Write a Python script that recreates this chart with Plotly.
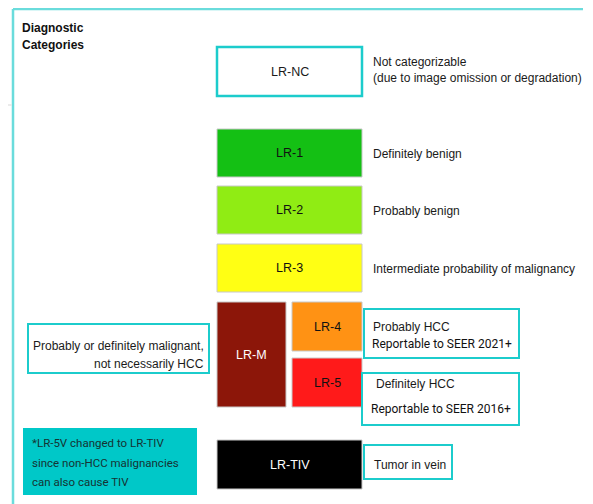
import plotly.graph_objects as go

# ---- content ----
categories = ["LR-NC", "LR-1", "LR-2", "LR-3", "LR-M", "LR-4", "LR-5", "LR-TIV"]
fill_colors = ["#FFFFFF", "#14C014", "#90EC14", "#FFFF14", "#8C1609", "#FF9214", "#FF1A1A", "#000000"]
label_colors = ["#1A1A1A", "#111111", "#111111", "#111111", "#FFFFFF", "#111111", "#111111", "#FFFFFF"]
descriptions = {
    "LR-NC": ["Not categorizable", "(due to image omission or degradation)"],
    "LR-1": ["Definitely benign"],
    "LR-2": ["Probably benign"],
    "LR-3": ["Intermediate probability of malignancy"],
    "LR-4": ["Probably HCC"],
    "LR-5": ["Definitely HCC"],
    "LR-TIV": ["Tumor in vein"],
}
seer_notes = {"LR-4": "Reportable to SEER 2021+", "LR-5": "Reportable to SEER 2016+"}
lrm_text = ["Probably or definitely malignant,", "not necessarily HCC"]
title_lines = ["Diagnostic", "Categories"]
footnote_lines = ["*LR-5V changed to LR-TIV", "since non-HCC malignancies", "can also cause TIV"]

# ---- layout geometry (pixel coordinates of the canvas) ----
W, H = 593, 504
OFF = 8  # page body margin
box_geom = {  # x0, x1, y0, y1
    "LR-NC": (217, 362, 47, 96),
    "LR-1": (217, 362, 129, 177),
    "LR-2": (217, 362, 186, 234),
    "LR-3": (217, 362, 244, 292),
    "LR-M": (217, 286, 302, 407),
    "LR-4": (292, 362, 302, 351),
    "LR-5": (292, 362, 358, 407),
    "LR-TIV": (217, 362, 440, 489),
}
desc_pos = {  # x, first-line y, line step
    "LR-NC": (371, 62, 16),
    "LR-1": (371, 154, 16),
    "LR-2": (371, 211, 16),
    "LR-3": (371, 269, 16),
    "LR-4": (371, 327, 16),
    "LR-5": (374, 384, 16),
    "LR-TIV": (372, 465, 16),
}
seer_pos = {"LR-4": (370, 344), "LR-5": (369, 409)}
teal = "#1CCCCC"
outline_boxes = [  # x0, x1, y0, y1 for teal outlined text boxes
    (364, 519, 309, 358),
    (362, 519, 373, 425),
    (364, 452, 445, 479),
    (28, 209, 324, 373),
]

fig = go.Figure()
fig.add_trace(go.Scatter(x=[OFF, W], y=[OFF, H], mode="markers", marker=dict(opacity=0), hoverinfo="skip", showlegend=False))

shapes = []
annotations = []
txt = "#1A1A1A"
main_font = "Liberation Sans, Arial, sans-serif"
alt_font = "Roboto, sans-serif"

# frame lines
shapes.append(dict(type="line", x0=13, x1=583, y0=9, y1=9, line=dict(color="#6ADCDC", width=2.5)))
shapes.append(dict(type="line", x0=13, x1=13, y0=9, y1=H, line=dict(color="#6ADCDC", width=2.5)))
shapes.append(dict(type="line", x0=OFF, x1=12, y0=105, y1=105, line=dict(color="#E4E4E4", width=1.5)))

# category boxes
for cat, fc, lc in zip(categories, fill_colors, label_colors):
    x0, x1, y0, y1 = box_geom[cat]
    border = dict(color=teal, width=2.5) if cat == "LR-NC" else dict(color="#C8C8C8", width=1)
    shapes.append(dict(type="rect", x0=x0, x1=x1, y0=y0, y1=y1, fillcolor=fc, line=border, layer="below"))
    annotations.append(dict(x=(x0 + x1) / 2, y=(y0 + y1) / 2, text=cat, showarrow=False,
                            font=dict(family=main_font, size=12.5, color=lc), xanchor="center", yanchor="middle"))

# teal outlined boxes
for x0, x1, y0, y1 in outline_boxes:
    shapes.append(dict(type="rect", x0=x0, x1=x1, y0=y0, y1=y1, fillcolor="rgba(0,0,0,0)", line=dict(color=teal, width=2)))

# footnote box
shapes.append(dict(type="rect", x0=23, x1=197, y0=428, y1=495, fillcolor="#00C8C8", line=dict(width=0), layer="below"))

# descriptions
for cat, lines in descriptions.items():
    x, y, step = desc_pos[cat]
    for i, line in enumerate(lines):
        annotations.append(dict(x=x, y=y + i * step, text=line, showarrow=False, xanchor="left", yanchor="middle",
                                font=dict(family=main_font, size=12, color=txt)))
for cat, note in seer_notes.items():
    x, y = seer_pos[cat]
    annotations.append(dict(x=x, y=y, text=note, showarrow=False, xanchor="left", yanchor="middle",
                            font=dict(family=alt_font, size=12, color="#111111")))

# LR-M side text (right aligned)
for i, line in enumerate(lrm_text):
    annotations.append(dict(x=206, y=346 + i * 18, text=line, showarrow=False, xanchor="right", yanchor="middle",
                            font=dict(family=main_font, size=12, color=txt)))

# title
for i, line in enumerate(title_lines):
    annotations.append(dict(x=20, y=28 + i * 17, text="<b>" + line + "</b>", showarrow=False, xanchor="left", yanchor="middle",
                            font=dict(family=main_font, size=12, color="#111111")))

# footnote
for i, line in enumerate(footnote_lines):
    annotations.append(dict(x=30, y=443 + i * 19.5, text=line, showarrow=False, xanchor="left", yanchor="middle",
                            font=dict(family=alt_font, size=11.5, color="#163333")))

fig.update_layout(
    width=W - OFF, height=H - OFF,
    margin=dict(l=0, r=0, t=0, b=0),
    paper_bgcolor="white", plot_bgcolor="white",
    xaxis=dict(range=[OFF, W], visible=False, fixedrange=True),
    yaxis=dict(range=[H, OFF], visible=False, fixedrange=True),
    shapes=shapes, annotations=annotations,
    showlegend=False,
)
fig.write_html("out.html", config={"displayModeBar": False})
